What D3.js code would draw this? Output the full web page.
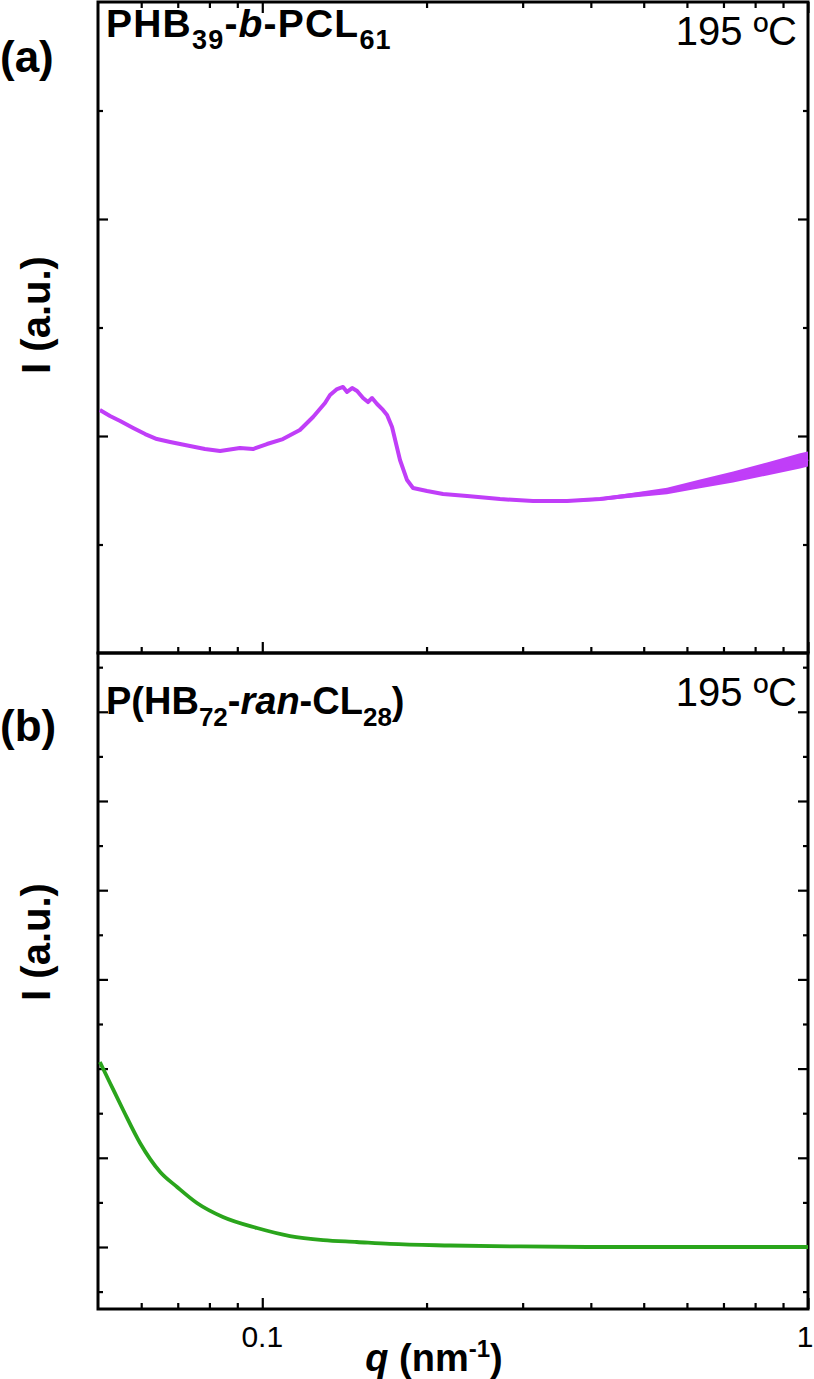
<!DOCTYPE html>
<html>
<head>
<meta charset="utf-8">
<script src="https://cdn.jsdelivr.net/npm/d3@7"></script>
<style>
  body { margin: 0; background: #fff; }
  svg { display: block; font-family: "Liberation Sans", Arial, sans-serif; }
</style>
</head>
<body>
<div id="chart"></div>
<script>
// SAXS profiles at 195 ºC
// panel (a): PHB39-b-PCL61
const qA = [0.0504, 0.0526, 0.0549, 0.0580, 0.0610, 0.0641, 0.0678, 0.0737, 0.0785, 0.0837,
            0.0910, 0.0962, 0.1020, 0.1091, 0.1172, 0.1239, 0.1303, 0.1331, 0.1371, 0.1406,
            0.1430, 0.1461, 0.1492, 0.1530, 0.1562, 0.1589, 0.1623, 0.1664, 0.1693, 0.1729,
            0.1788, 0.1842, 0.1889, 0.2004, 0.2144, 0.2373, 0.2727, 0.3134, 0.3617, 0.4159,
            0.4780, 0.5516, 0.634, 0.729, 0.841, 0.967, 1.0];
const iA = [2.240, 2.184, 2.138, 2.074, 2.018, 1.972, 1.945, 1.908, 1.880, 1.862,
            1.889, 1.880, 1.926, 1.972, 2.055, 2.175, 2.304, 2.378, 2.433, 2.452,
            2.406, 2.442, 2.415, 2.350, 2.313, 2.350, 2.295, 2.240, 2.194, 2.083,
            1.779, 1.594, 1.521, 1.493, 1.465, 1.447, 1.419, 1.401, 1.401, 1.419,
            1.456, 1.493, 1.558, 1.622, 1.696, 1.770, 1.788];
// half-width of the noisy band at high q (a.u.)
const noiseA = [0, 0, 0, 0, 0, 0, 0, 0, 0, 0,
                0, 0, 0, 0, 0, 0, 0, 0, 0, 0,
                0, 0, 0, 0, 0, 0, 0, 0, 0, 0,
                0, 0, 0, 0, 0, 0, 0, 0.006, 0.012, 0.015,
                0.022, 0.03, 0.04, 0.05, 0.06, 0.07, 0.07];

// panel (b): P(HB72-ran-CL28)
const qB = [0.0504, 0.0526, 0.0556, 0.0597, 0.0650, 0.0698, 0.0759, 0.0847, 0.0978, 0.1124,
            0.1293, 0.149, 0.1714, 0.221, 0.297, 0.4159, 0.634, 1.0];
const iB = [2.074, 1.839, 1.536, 1.166, 0.841, 0.673, 0.493, 0.336, 0.213, 0.123,
            0.078, 0.056, 0.034, 0.017, 0.006, 0.0, 0.0, 0.0];

const qMajor = [0.1, 1];
const qMinor = [0.06, 0.07, 0.08, 0.09, 0.2, 0.3, 0.4, 0.5, 0.6, 0.7, 0.8, 0.9];
const yMajorA = [2, 4];
const yMinorA = [1, 3, 5];
const yMajorB = [0, 1, 2, 3, 4, 5, 6];
const yMinorB = [-0.5, 0.5, 1.5, 2.5, 3.5, 4.5, 5.5, 6.5];

const width = 814, height = 1379;
const left = 98, right = 808;
const topA = 2, botA = 653, topB = 653, botB = 1309;

const purple = "#c03ef8";
const green = "#2aa51c";

const svg = d3.select("#chart").append("svg")
    .attr("width", width)
    .attr("height", height);

const x = d3.scaleLog().domain([0.05, 1]).range([left, right]);
const yA = d3.scaleLinear().domain([0, 6]).range([botA, topA]);
const yB = d3.scaleLinear().domain([-0.695, 6.659]).range([botB, topB]);

// tick helper: inward ticks, no labels
function ticks(g, axisFn, scale, values, size) {
    g.call(axisFn(scale).tickValues(values).tickSize(size).tickFormat(""));
    g.select(".domain").remove();
    g.selectAll(".tick line").attr("stroke", "#000").attr("stroke-width", 2.2);
}

function panel(yScale, top, bot, yMajor, yMinor, xTopTicks) {
    const g = svg.append("g");

    // left / right y ticks
    ticks(g.append("g").attr("transform", `translate(${left},0)`), d3.axisLeft, yScale, yMajor, -10);
    ticks(g.append("g").attr("transform", `translate(${left},0)`), d3.axisLeft, yScale, yMinor, -5);
    ticks(g.append("g").attr("transform", `translate(${right},0)`), d3.axisRight, yScale, yMajor, -10);
    ticks(g.append("g").attr("transform", `translate(${right},0)`), d3.axisRight, yScale, yMinor, -5);

    // bottom x ticks (pointing up)
    ticks(g.append("g").attr("transform", `translate(0,${bot})`), d3.axisBottom, x, qMajor, -11);
    ticks(g.append("g").attr("transform", `translate(0,${bot})`), d3.axisBottom, x, qMinor, -6);

    if (xTopTicks) {
        ticks(g.append("g").attr("transform", `translate(0,${top})`), d3.axisTop, x, qMajor, -11);
        ticks(g.append("g").attr("transform", `translate(0,${top})`), d3.axisTop, x, qMinor, -6);
    }

    // frame
    g.append("rect")
        .attr("x", left).attr("y", top)
        .attr("width", right - left).attr("height", bot - top)
        .attr("fill", "none").attr("stroke", "#000").attr("stroke-width", 3);
    return g;
}

// panel (a)
panel(yA, topA, botA, yMajorA, yMinorA, true);

const ptsA = qA.map((q, i) => ({ q, v: iA[i], n: noiseA[i] }));
svg.append("path")
    .datum(ptsA)
    .attr("fill", purple)
    .attr("d", d3.area().x(d => x(d.q)).y0(d => yA(d.v - d.n)).y1(d => yA(d.v + d.n)));
svg.append("path")
    .datum(ptsA)
    .attr("fill", "none")
    .attr("stroke", purple)
    .attr("stroke-width", 4)
    .attr("stroke-linejoin", "round")
    .attr("d", d3.line().x(d => x(d.q)).y(d => yA(d.v)));

// panel (b)
panel(yB, topB, botB, yMajorB, yMinorB, false);

const ptsB = qB.map((q, i) => ({ q, v: iB[i] }));
svg.append("path")
    .datum(ptsB)
    .attr("fill", "none")
    .attr("stroke", green)
    .attr("stroke-width", 3.8)
    .attr("stroke-linejoin", "round")
    .attr("d", d3.line().curve(d3.curveMonotoneX).x(d => x(d.q)).y(d => yB(d.v)));

// x tick labels
svg.selectAll(".xlab")
    .data(qMajor)
    .enter().append("text")
    .attr("x", d => Math.min(x(d), 805))
    .attr("y", 1347)
    .attr("text-anchor", "middle")
    .attr("font-size", 30)
    .text(d => d);

// x axis title
const xt = svg.append("text")
    .attr("x", 434).attr("y", 1371)
    .attr("text-anchor", "middle")
    .attr("font-size", 38)
    .attr("font-weight", "bold");
xt.append("tspan").attr("font-style", "italic").text("q");
xt.append("tspan").text(" (nm");
xt.append("tspan").attr("font-size", 24).attr("dy", -14).text("-1");
xt.append("tspan").attr("dy", 14).text(")");

// y axis titles
[315, 942].forEach(cy => {
    svg.append("text")
        .attr("transform", `translate(50,${cy}) rotate(-90)`)
        .attr("text-anchor", "middle")
        .attr("font-size", 40)
        .attr("font-weight", "bold")
        .text("I (a.u.)");
});

// panel letters
svg.append("text").attr("x", 0).attr("y", 72)
    .attr("font-size", 44).attr("font-weight", "bold").text("(a)");
svg.append("text").attr("x", 0).attr("y", 741)
    .attr("font-size", 44).attr("font-weight", "bold").text("(b)");

// sample names
const nA = svg.append("text").attr("x", 106).attr("y", 37)
    .attr("font-size", 39).attr("font-weight", "bold")
    .attr("letter-spacing", 1.2);
nA.append("tspan").text("PHB");
nA.append("tspan").attr("font-size", 27).attr("dy", 12).text("39");
nA.append("tspan").attr("dy", -12).text("-");
nA.append("tspan").attr("font-style", "italic").text("b");
nA.append("tspan").text("-PCL");
nA.append("tspan").attr("font-size", 27).attr("dy", 12).text("61");

const nB = svg.append("text").attr("x", 106).attr("y", 714)
    .attr("font-size", 38).attr("font-weight", "bold");
nB.append("tspan").text("P(HB");
nB.append("tspan").attr("font-size", 26).attr("dy", 12).text("72");
nB.append("tspan").attr("dy", -12).text("-");
nB.append("tspan").attr("font-style", "italic").text("ran");
nB.append("tspan").text("-CL");
nB.append("tspan").attr("font-size", 26).attr("dy", 12).text("28");
nB.append("tspan").attr("dy", -12).text(")");

// temperature
[45, 706].forEach(yy => {
    svg.append("text").attr("x", 797).attr("y", yy)
        .attr("text-anchor", "end")
        .attr("font-size", 40)
        .text("195 ºC");
});
</script>
</body>
</html>
